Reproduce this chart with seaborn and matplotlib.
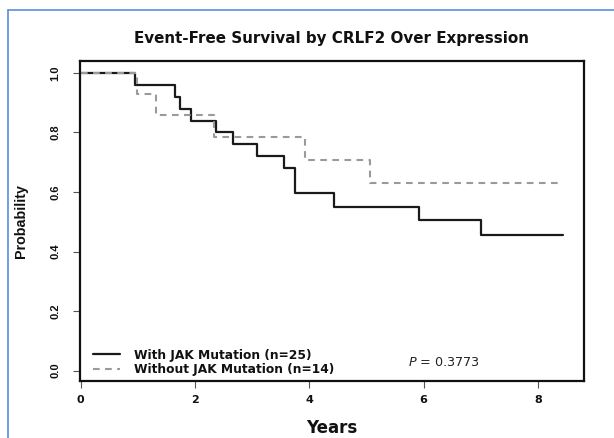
import matplotlib
matplotlib.use("Agg")
import matplotlib.pyplot as plt
import seaborn as sns
import pandas as pd
from matplotlib.lines import Line2D

# Data
with_jak_time = [0, 0.96, 1.66, 1.74, 1.94, 2.36, 2.67, 3.08, 3.55, 3.75, 4.43, 5.92, 7.00, 8.44]
with_jak_surv = [1.0, 0.96, 0.92, 0.88, 0.84, 0.80, 0.76, 0.72, 0.68, 0.597, 0.551, 0.505, 0.455, 0.455]
without_jak_time = [0, 0.99, 1.32, 2.33, 3.93, 5.06, 8.40]
without_jak_surv = [1.0, 0.929, 0.857, 0.786, 0.707, 0.629, 0.629]
labels = ["With JAK Mutation (n=25)", "Without JAK Mutation (n=14)"]
x_ticks = [0, 2, 4, 6, 8]
y_ticks = [0.0, 0.2, 0.4, 0.6, 0.8, 1.0]
title = "Event-Free Survival by CRLF2 Over Expression"
p_text = "$P$ = 0.3773"

sns.set_theme(style="ticks")
plt.rcParams["font.family"] = ["DejaVu Sans"]
plt.rcParams["mathtext.fontset"] = "dejavusans"
plt.rcParams["text.color"] = "#111111"
plt.rcParams["axes.labelcolor"] = "#111111"
plt.rcParams["xtick.labelcolor"] = "#111111"
plt.rcParams["ytick.labelcolor"] = "#111111"

WIDE = "DejaVu Sans"
NARROW = "Liberation Sans"

df = pd.concat([
    pd.DataFrame({"Years": with_jak_time, "Probability": with_jak_surv, "group": labels[0]}),
    pd.DataFrame({"Years": without_jak_time, "Probability": without_jak_surv, "group": labels[1]}),
])

fig = plt.figure(figsize=(6.14, 4.38), dpi=100)
ax = fig.add_axes([80 / 614, 1 - 381 / 438, (583.7 - 80) / 614, (381 - 61) / 438])

sns.lineplot(data=df[df.group == labels[0]], x="Years", y="Probability", ax=ax,
             drawstyle="steps-post", color="#1a1a1a", linewidth=1.6, estimator=None,
             legend=False)
sns.lineplot(data=df[df.group == labels[1]], x="Years", y="Probability", ax=ax,
             drawstyle="steps-post", color="#9a9a9a", linewidth=1.5, estimator=None,
             legend=False)
ax.lines[1].set_dashes([3.2, 2.6])

ax.set_xlim(-0.01, 8.8)
ax.set_ylim(-0.035, 1.04)
ax.set_xticks(x_ticks)
ax.set_yticks(y_ticks)
ax.set_xticklabels([str(t) for t in x_ticks], fontweight="bold", fontsize=8, family=WIDE)
ax.set_yticklabels([f"{t:.1f}" for t in y_ticks], fontweight="bold", fontsize=8,
                   rotation=90, va="center", family=NARROW)
ax.tick_params(axis="x", length=5, width=0.8, color="#555555", pad=5)
ax.tick_params(axis="y", length=5, width=0.8, color="#555555", pad=9)
for s in ax.spines.values():
    s.set_visible(True)
    s.set_linewidth(1.6)
    s.set_color("#111111")

ax.set_xlabel("Years", fontweight="bold", fontsize=12, labelpad=10, family=WIDE)
ax.set_ylabel("Probability", fontweight="bold", fontsize=10.3, labelpad=16, family=NARROW)
fig.text((80 + 583.7) / 2 / 614, 1 - 38 / 438, title, ha="center", va="center",
         fontweight="bold", fontsize=10.9, family=WIDE)

h1 = Line2D([], [], color="#1a1a1a", lw=1.6)
h2 = Line2D([], [], color="#9a9a9a", lw=1.5, dashes=[3.2, 2.6])
leg = ax.legend([h1, h2], labels, loc="lower left", bbox_to_anchor=(0.016, 0.0),
                frameon=False, prop={"weight": "bold", "size": 8.8, "family": WIDE},
                handlelength=2.2, handletextpad=1.15, labelspacing=0.12,
                borderaxespad=0.0)

ax.text(5.73, 0.026, p_text, fontsize=9.2, color="#222222", va="center", ha="left",
        family=WIDE)

# blue frame of the screenshot
fig.add_artist(Line2D([8 / 614, 1], [1 - 10 / 438, 1 - 10 / 438], color="#5b8ee0", lw=1.2,
                      transform=fig.transFigure))
fig.add_artist(Line2D([8 / 614, 8 / 614], [0, 1 - 10 / 438], color="#5b8ee0", lw=1.2,
                      transform=fig.transFigure))

fig.savefig("out.png", dpi=100)
